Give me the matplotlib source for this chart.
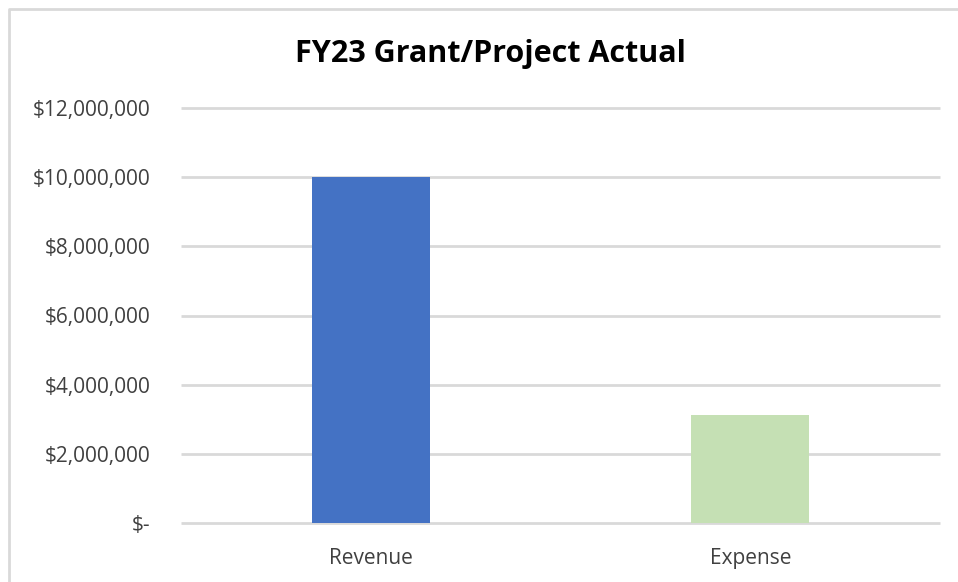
import matplotlib.pyplot as plt
from matplotlib.lines import Line2D

categories = ["Revenue", "Expense"]
values = [10000000, 3130000]
colors = ["#4472C4", "#C5E0B4"]
yticks = [0, 2000000, 4000000, 6000000, 8000000, 10000000, 12000000]
ytick_labels = ["$-", "$2,000,000", "$4,000,000", "$6,000,000",
                "$8,000,000", "$10,000,000", "$12,000,000"]

plt.rcParams['font.family'] = ['Open Sans', 'DejaVu Sans']

fig = plt.figure(figsize=(9.58, 5.82), dpi=100)
ax = fig.add_axes([181 / 958, 1 - 523 / 582, (940 - 181) / 958, (523 - 108) / 582])

ax.bar(range(len(categories)), values, width=0.31, color=colors, zorder=3)
ax.set_xlim(-0.5, 1.5)
ax.set_ylim(0, 12000000)
ax.set_xticks(range(len(categories)))
ax.set_xticklabels(categories)
ax.set_yticks(yticks)
ax.set_yticklabels(ytick_labels)
ax.tick_params(axis='y', length=0, pad=22, labelsize=15, labelcolor="#404040")
ax.tick_params(axis='x', length=0, pad=18, labelsize=15, labelcolor="#404040")
for y in yticks:
    ax.axhline(y, color="#D9D9D9", linewidth=2, zorder=0, clip_on=False,
               solid_capstyle='butt')
for s in ax.spines.values():
    s.set_visible(False)

fig.text(490 / 958, 1 - 54 / 582, "FY23 Grant/Project Actual", ha='center', va='center',
         fontsize=22, fontweight='bold', color="black")

# chart border, only the top and left edges are in view
bx, by = 8.5 / 958, 1 - 8.5 / 582
fig.lines.append(Line2D([bx, bx, 1.0], [0, by, by], transform=fig.transFigure,
                        color="#D9D9D9", linewidth=2))

fig.savefig("out.png", dpi=100)
